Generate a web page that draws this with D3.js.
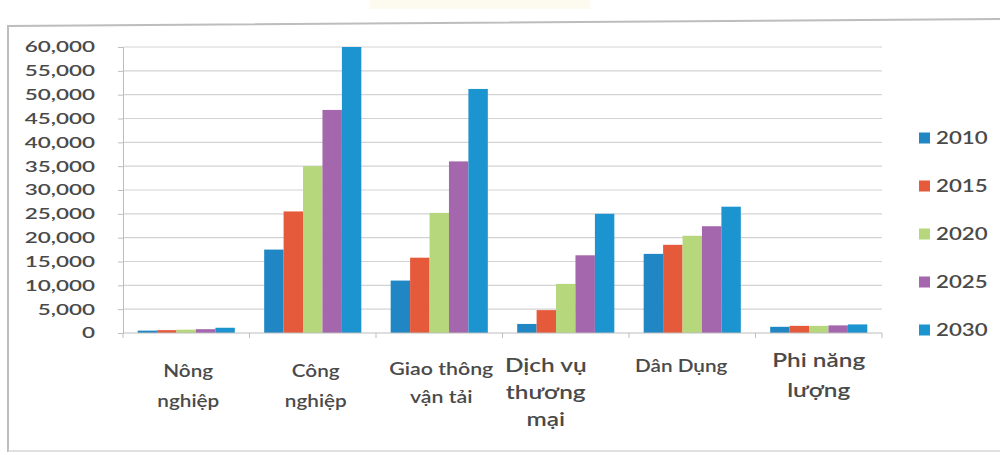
<!DOCTYPE html>
<html>
<head>
<meta charset="utf-8">
<script src="https://cdn.jsdelivr.net/npm/d3@7"></script>
<style>
  html, body { margin: 0; padding: 0; background: #ffffff; }
  svg { display: block; }
  text { font-family: Lato, "Open Sans", sans-serif; fill: #4a4a4a; font-weight: 600; }
</style>
</head>
<body>
<svg id="chart" width="1000" height="455"></svg>
<script>
// Final energy demand by sector, 2010–2030
const categories = [
  ["Nông", "nghiệp"],
  ["Công", "nghiệp"],
  ["Giao thông", "vận tải"],
  ["Dịch vụ", "thương", "mại"],
  ["Dân Dụng"],
  ["Phi năng", "lượng"]
];
const years = ["2010", "2015", "2020", "2025", "2030"];

const s2010 = [500, 17500, 11000, 1900, 16600, 1300];
const s2015 = [600, 25500, 15800, 4800, 18500, 1500];
const s2020 = [700, 35000, 25200, 10300, 20400, 1500];
const s2025 = [800, 46800, 36000, 16300, 22400, 1600];
const s2030 = [1100, 60000, 51200, 25000, 26500, 1800];

const yTicks = [0, 5000, 10000, 15000, 20000, 25000, 30000, 35000, 40000, 45000, 50000, 55000, 60000];

const seriesValues = [s2010, s2015, s2020, s2025, s2030];
const colors = ["#2187c4", "#e65a3c", "#b6d77b", "#a466ad", "#1c94cf"];

const svg = d3.select("#chart");
const catKeys = categories.map(c => c.join(" "));

// plot area
const plotL = 123, plotR = 882, plotT = 47, plotB = 333;

const x = d3.scaleBand().domain(catKeys).range([plotL, plotR])
  .paddingInner(0.232).paddingOuter(0.116);
const xs = d3.scaleBand().domain(years).range([0, x.bandwidth()]).padding(0);
const y = d3.scaleLinear().domain([0, 60000]).range([plotB, plotT]);

// faint tint along the top edge
svg.append("rect")
  .attr("x", 370).attr("y", 0).attr("width", 220).attr("height", 9)
  .attr("fill", "#fdfbef");

// outer frame
svg.append("path")
  .attr("d", "M8,452 L8,26 L1000,19")
  .attr("fill", "none").attr("stroke", "#bdbdbd").attr("stroke-width", 2);
svg.append("line")
  .attr("x1", 8).attr("x2", 1000).attr("y1", 451).attr("y2", 451)
  .attr("stroke", "#d6d6d6").attr("stroke-width", 1.5);

// gridlines
svg.append("g").selectAll("line").data(yTicks.slice(1)).join("line")
  .attr("x1", plotL).attr("x2", plotR)
  .attr("y1", d => y(d)).attr("y2", d => y(d))
  .attr("stroke", "#d3d3d3").attr("stroke-width", 1.2);

// y axis
const yScaleX = 1.45;
const yAxis = svg.append("g").attr("transform", `translate(${plotL},0)`)
  .call(d3.axisLeft(y).tickValues(yTicks).tickFormat(d3.format(",")).tickSize(5).tickPadding(14.3));
yAxis.select(".domain").attr("stroke", "#bdbdbd");
yAxis.selectAll(".tick line").attr("stroke", "#bdbdbd");
yAxis.selectAll(".tick text")
  .attr("font-size", 15.5)
  .attr("font-family", "Lato, 'Open Sans', sans-serif")
  .attr("fill", "#4a4a4a")
  .attr("transform", `scale(${yScaleX},1)`);

// bars
const groups = svg.append("g").selectAll("g").data(catKeys).join("g")
  .attr("transform", d => `translate(${x(d)},0)`);
groups.selectAll("rect")
  .data((d, i) => years.map((yr, j) => ({ yr, j, v: seriesValues[j][i] })))
  .join("rect")
  .attr("x", d => xs(d.yr))
  .attr("width", xs.bandwidth())
  .attr("y", d => y(d.v))
  .attr("height", d => y(0) - y(d.v))
  .attr("fill", d => colors[d.j]);

// x axis line and category separators
svg.append("line")
  .attr("x1", plotL).attr("x2", plotR).attr("y1", plotB).attr("y2", plotB)
  .attr("stroke", "#bdbdbd");
const bounds = d3.range(catKeys.length + 1).map(i => plotL + i * (plotR - plotL) / catKeys.length);
svg.append("g").selectAll("line").data(bounds).join("line")
  .attr("x1", d => d).attr("x2", d => d).attr("y1", plotB).attr("y2", plotB + 5)
  .attr("stroke", "#bdbdbd");

// category labels
const labelSize = [17, 17, 17.5, 20, 17, 20];
const labelShift = [2, 3, 2, -20, -11, 0];
const labelTop = [377, 377, 375, 372, 372, 367];
const labelGap = [30, 30, 28, 27, 28, 30];
const catScaleX = 1.22;
categories.forEach((lines, i) => {
  const cx = x(catKeys[i]) + x.bandwidth() / 2 + labelShift[i];
  lines.forEach((ln, k) => {
    svg.append("text")
      .attr("transform", `translate(${cx},${labelTop[i] + k * labelGap[i]}) scale(${catScaleX},1)`)
      .attr("text-anchor", "middle")
      .attr("font-size", labelSize[i])
      .text(ln);
  });
});

// legend
const legY = d3.scalePoint().domain(years).range([138, 330]);
const leg = svg.append("g").selectAll("g").data(years).join("g")
  .attr("transform", d => `translate(919,${legY(d)})`);
leg.append("rect")
  .attr("x", 0).attr("y", -5.5).attr("width", 11).attr("height", 11)
  .attr("fill", (d, i) => colors[i]);
leg.append("text")
  .attr("transform", "translate(17,0) scale(1.35,1)")
  .attr("dy", "0.35em")
  .attr("font-size", 16.5)
  .text(d => d);
</script>
</body>
</html>
